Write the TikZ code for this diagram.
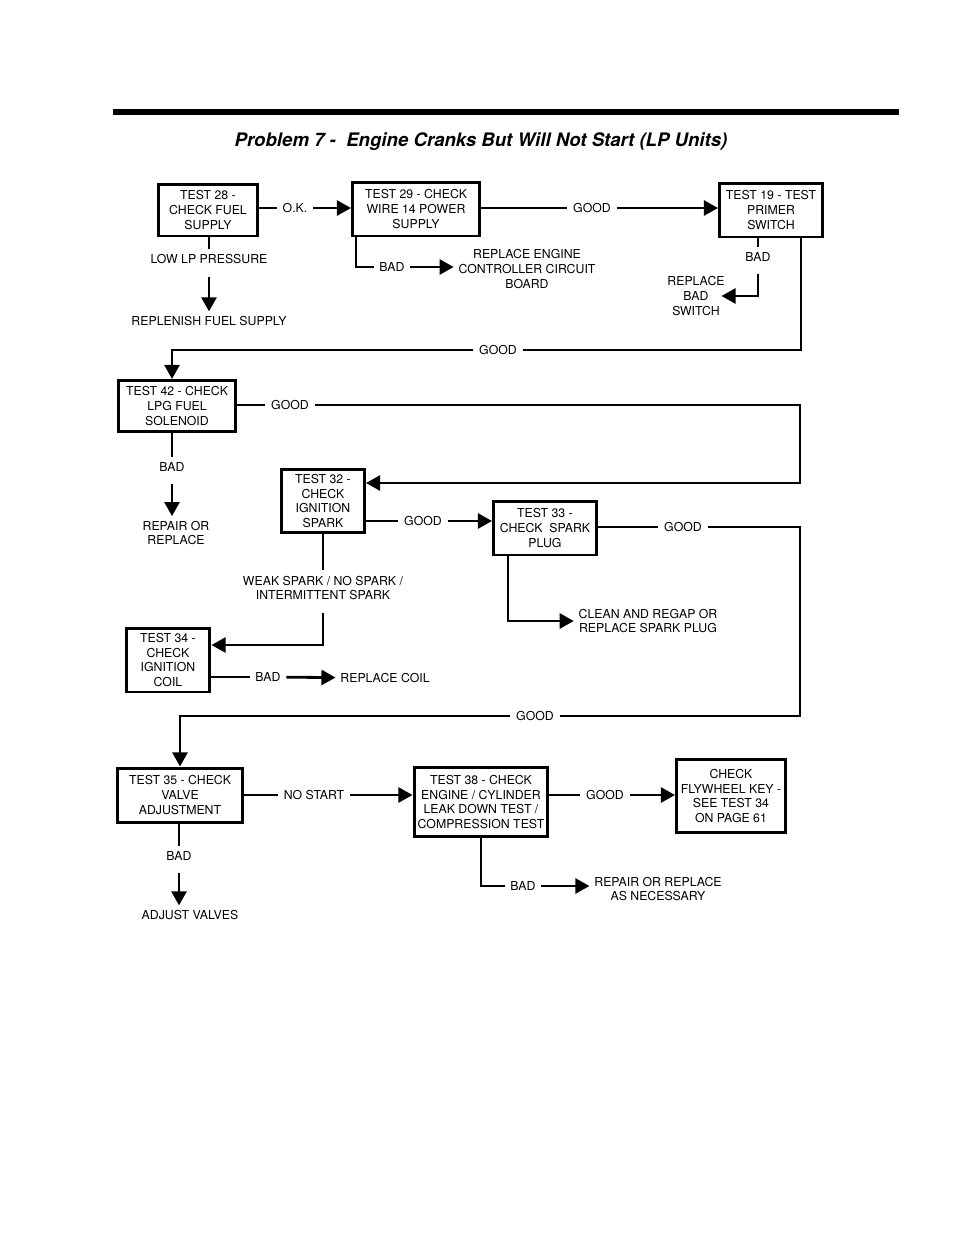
\documentclass[tikz,border=0pt]{standalone}
\usepackage{fontspec}
\setmainfont{TeX Gyre Heros}
\usetikzlibrary{arrows.meta,positioning}

\begin{document}
\begin{tikzpicture}[
    x=0.02cm, y=-0.02cm,
    line width=1.6pt,
    font=\fontsize{7}{8.3}\selectfont,
    testbox/.style={rectangle, draw=black, line width=1.7pt, align=center, inner sep=1pt},
    lbl/.style={inner sep=2.5pt, align=center},
    note/.style={inner sep=2pt, align=center},
    arrow/.style={-{Triangle[length=8pt,width=8.5pt]}},
    drop/.style={arrow, shorten <=4pt}
  ]
  \useasboundingbox (0,0) rectangle (954,1235);

  % Header
  \fill (113,109) rectangle (899,115);
  \node (title) [font=\fontsize{10.6}{12.5}\selectfont\bfseries\itshape] at (481,142) {Problem 7 -~ Engine Cranks But Will Not Start (LP Units)};

  % Tests
  \node (t28) [testbox, minimum width=2cm, minimum height=1.04cm] at (208,210) {TEST 28 -\\CHECK FUEL\\SUPPLY};
  \node (t29) [testbox, minimum width=2.54cm, minimum height=1.08cm] at (416,209) {TEST 29 - CHECK\\WIRE 14 POWER\\SUPPLY};
  \node (t19) [testbox, minimum width=2.06cm, minimum height=1.08cm] at (771,210) {TEST 19 - TEST\\PRIMER\\SWITCH};
  \node (t42) [testbox, minimum width=2.34cm, minimum height=1.02cm] at (177,406) {TEST 42 - CHECK\\LPG FUEL\\SOLENOID};
  \node (t32) [testbox, minimum width=1.66cm, minimum height=1.26cm] at (323,501) {TEST 32 -\\CHECK\\IGNITION\\SPARK};
  \node (t33) [testbox, minimum width=2.06cm, minimum height=1.08cm] at (545,528) {TEST 33 -\\CHECK~ SPARK\\PLUG};
  \node (t34) [testbox, minimum width=1.68cm, minimum height=1.28cm] at (168,660) {TEST 34 -\\CHECK\\IGNITION\\COIL};
  \node (t35) [testbox, minimum width=2.5cm, minimum height=1.08cm] at (180,795) {TEST 35 - CHECK\\VALVE\\ADJUSTMENT};
  \node (t38) [testbox, minimum width=2.68cm, minimum height=1.38cm] at (481,802) {TEST 38 - CHECK\\ENGINE / CYLINDER\\LEAK DOWN TEST /\\COMPRESSION TEST};
  \node (fly) [testbox, minimum width=2.18cm, minimum height=1.46cm] at (731,796) {CHECK\\FLYWHEEL KEY -\\SEE TEST 34\\ON PAGE 61};

  % Outcomes and labels
  \node (ok) [lbl] at (295,208) {O.K.};
  \node (lowlp) [lbl] at (209,259) {LOW LP PRESSURE};
  \node (replenish) [note] at (209,321) {REPLENISH FUEL SUPPLY};
  \node (good29) [lbl] at (592,208) {GOOD};
  \node (bad29) [lbl] at (392,267) {BAD};
  \node (repecb) [note] at (527,269) {REPLACE ENGINE\\CONTROLLER CIRCUIT\\BOARD};
  \node (bad19) [lbl] at (758,257) {BAD};
  \node (repsw) [note] at (696,296) {REPLACE\\BAD\\SWITCH};
  \node (good19) [lbl] at (498,350) {GOOD};
  \node (good42) [lbl] at (290,405) {GOOD};
  \node (bad42) [lbl] at (172,467) {BAD};
  \node (repair42) [note] at (176,533) {REPAIR OR\\REPLACE};
  \node (good32) [lbl] at (423,521) {GOOD};
  \node (clean) [note] at (648,621) {CLEAN AND REGAP OR\\REPLACE SPARK PLUG};
  \node (good33) [lbl] at (683,527) {GOOD};
  \node (weak) [lbl] at (323,588) {WEAK SPARK / NO SPARK /\\INTERMITTENT SPARK};
  \node (bad34) [lbl] at (268,677) {BAD};
  \node (repcoil) [note] at (385,678) {REPLACE COIL};
  \node (good33b) [lbl] at (535,716) {GOOD};
  \node (nostart) [lbl] at (314,795) {NO START};
  \node (bad35) [lbl] at (179,856) {BAD};
  \node (adjust) [note] at (190,915) {ADJUST VALVES};
  \node (good38) [lbl] at (605,795) {GOOD};
  \node (bad38) [lbl] at (523,886) {BAD};
  \node (repnec) [note] at (658,889) {REPAIR OR REPLACE\\AS NECESSARY};

  \coordinate (turn42) at (800,483);
  \coordinate (turn33) at (800,716);

  % Links
  \draw (ok -| t28.east) -- (ok);
  \draw [arrow] (ok) -- (ok -| t29.west);
  \draw (t28.south -| lowlp) -- (lowlp);
  \draw [drop] (lowlp) -- (lowlp |- replenish.north);

  \draw (t29.east |- good29) -- (good29);
  \draw [arrow] (good29) -- (good29 -| t19.west);
  \draw ([xshift=0.1cm]t29.south west) |- (bad29);
  \draw [arrow] (bad29) -- (bad29 -| repecb.west);

  \draw (t19.south -| bad19) -- (bad19);
  \draw [drop] (bad19) |- ([xshift=-0.16cm]repsw.east);
  \draw ([xshift=-0.46cm]t19.south east) |- (good19);
  \draw [arrow] (good19) -| (bad42 |- t42.north);

  \draw (t42.east |- good42) -- (good42);
  \draw [arrow] (good42) -| (turn42) -- (turn42 -| t32.east);
  \draw (t42.south -| bad42) -- (bad42);
  \draw [drop] (bad42) -- (bad42 |- repair42.north);

  \draw (t32.east |- good32) -- (good32);
  \draw [arrow] (good32) -- (good32 -| t33.west);
  \draw (t32) -- (weak);
  \draw [drop] (weak) |- ([yshift=0.3cm]t34.east);

  \draw [arrow] ([xshift=0.32cm]t33.south west) |- (clean.west);
  \draw (t33.east |- good33) -- (good33);
  \draw (good33) -| (turn33) -- (good33b);
  \draw [arrow] (good33b) -| (t35.north);

  \draw (t34.east |- bad34) -- (bad34);
  \draw [arrow] (bad34) -- (repcoil);

  \draw (t35.east |- nostart) -- (nostart);
  \draw [arrow] (nostart) -- (nostart -| t38.west);
  \draw (t35.south -| bad35) -- (bad35);
  \draw [drop] (bad35) -- (bad35 |- adjust.north);

  \draw (t38.east |- good38) -- (good38);
  \draw [arrow] (good38) -- (good38 -| fly.west);
  \draw (t38.south) |- (bad38);
  \draw [arrow] (bad38) -- (bad38 -| repnec.west);

\end{tikzpicture}
\end{document}
